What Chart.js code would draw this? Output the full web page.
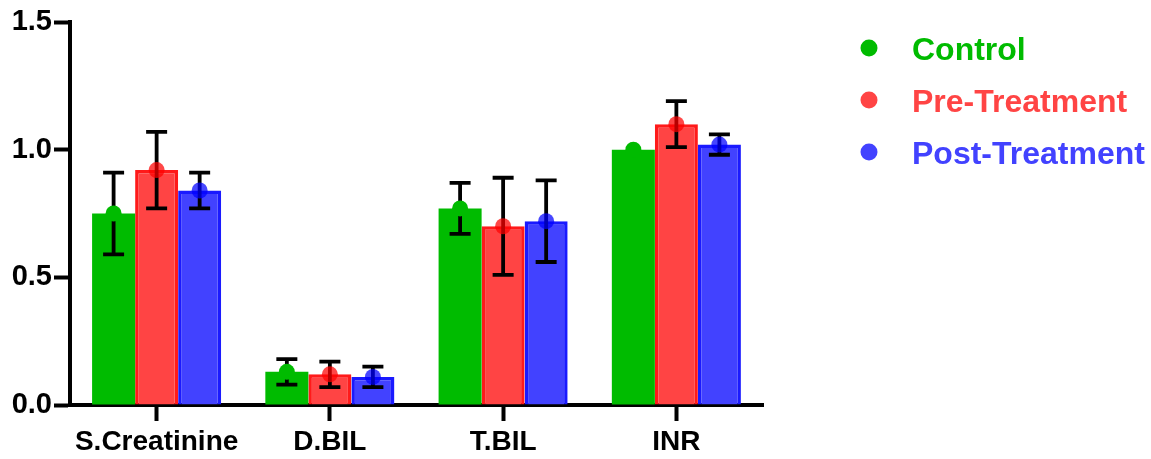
<!DOCTYPE html>
<html>
<head>
<meta charset="utf-8">
<script src="https://cdn.jsdelivr.net/npm/chart.js@4.4.1/dist/chart.umd.min.js"></script>
<style>
  html, body { margin: 0; padding: 0; background: #ffffff; }
  #wrap { position: relative; width: 1151px; height: 459px; }
</style>
</head>
<body>
<div id="wrap"><canvas id="chart" width="1151" height="459"></canvas></div>
<script>
// Liver / kidney markers per group: mean and standard deviation
const categories = ['S.Creatinine', 'D.BIL', 'T.BIL', 'INR'];
const seriesNames = ['Control', 'Pre-Treatment', 'Post-Treatment'];
const controlMean = [0.75, 0.13, 0.77, 1.00];
const controlSD   = [0.16, 0.05, 0.10, 0.00];
const preMean     = [0.92, 0.12, 0.70, 1.10];
const preSD       = [0.15, 0.05, 0.19, 0.09];
const postMean    = [0.84, 0.11, 0.72, 1.02];
const postSD      = [0.07, 0.04, 0.16, 0.04];
const yTicks      = [0.0, 0.5, 1.0, 1.5];

const FONT = '"Liberation Sans", Arial, Helvetica, sans-serif';

const groups = [
  { name: seriesNames[0], mean: controlMean, sd: controlSD,
    fill: 'rgb(0,187,0)', border: 'rgb(0,187,0)', borderWidth: 0,
    dot: 'rgb(0,187,0)', text: 'rgb(0,187,0)' },
  { name: seriesNames[1], mean: preMean, sd: preSD,
    fill: 'rgb(255,68,68)', border: 'rgb(255,26,26)', borderWidth: 3.5,
    dot: 'rgba(255,0,0,0.72)', text: 'rgb(255,68,68)' },
  { name: seriesNames[2], mean: postMean, sd: postSD,
    fill: 'rgb(66,66,255)', border: 'rgb(26,26,255)', borderWidth: 3.5,
    dot: 'rgba(0,0,255,0.72)', text: 'rgb(66,66,255)' }
];

// Error bars (mean ± SD) and mean dots on top of every bar
const errorDots = {
  id: 'errorDots',
  afterDatasetsDraw(chart) {
    const ctx = chart.ctx;
    const y = chart.scales.y;
    groups.forEach((g, i) => {
      const meta = chart.getDatasetMeta(i);
      meta.data.forEach((bar, j) => {
        const x = bar.x;
        const m = g.mean[j], s = g.sd[j];
        ctx.save();
        if (s > 0) {
          const yt = y.getPixelForValue(m + s);
          const yb = y.getPixelForValue(m - s);
          ctx.strokeStyle = '#000';
          ctx.lineWidth = 3.8;
          ctx.lineCap = 'butt';
          ctx.beginPath();
          ctx.moveTo(x, yt); ctx.lineTo(x, yb);
          ctx.moveTo(x - 10.5, yt); ctx.lineTo(x + 10.5, yt);
          ctx.moveTo(x - 10.5, yb); ctx.lineTo(x + 10.5, yb);
          ctx.stroke();
        }
        ctx.fillStyle = g.dot;
        ctx.beginPath();
        ctx.arc(x, y.getPixelForValue(m), 8, 0, Math.PI * 2);
        ctx.fill();
        ctx.restore();
      });
    });
  }
};

// Legend on the right: coloured dot + bold label
const sideLegend = {
  id: 'sideLegend',
  afterDraw(chart) {
    const ctx = chart.ctx;
    ctx.save();
    ctx.font = 'bold 32px ' + FONT;
    ctx.textBaseline = 'alphabetic';
    ctx.textAlign = 'left';
    groups.forEach((g, i) => {
      const cy = 48 + i * 52;
      ctx.fillStyle = g.text;
      ctx.beginPath();
      ctx.arc(869, cy, 8.5, 0, Math.PI * 2);
      ctx.fill();
      ctx.fillText(g.name, 912, cy + 11.5);
    });
    ctx.restore();
  }
};

new Chart(document.getElementById('chart'), {
  type: 'bar',
  data: {
    labels: categories,
    datasets: groups.map(g => ({
      label: g.name,
      data: g.mean,
      backgroundColor: g.fill,
      borderColor: g.border,
      borderWidth: g.borderWidth,
      categoryPercentage: 0.745,
      barPercentage: 1.0
    }))
  },
  options: {
    responsive: false,
    animation: false,
    events: [],
    layout: { padding: { top: 22, right: 388, left: 0, bottom: 0 } },
    plugins: { legend: { display: false }, tooltip: { enabled: false } },
    scales: {
      x: {
        offset: true,
        grid: {
          display: true, drawOnChartArea: false, drawTicks: true,
          tickLength: 16, tickWidth: 4, tickColor: '#000', offset: false
        },
        border: { display: true, width: 4, color: '#000' },
        ticks: {
          color: '#000', padding: 4,
          font: { family: FONT, size: 28, weight: 'bold' },
          maxRotation: 0, autoSkip: false
        },
        afterFit(scale) { scale.height = 54; }
      },
      y: {
        min: 0, max: 1.5,
        afterBuildTicks(scale) { scale.ticks = yTicks.map(v => ({ value: v })); },
        grid: {
          display: true, drawOnChartArea: false, drawTicks: true,
          tickLength: 16, tickWidth: 4, tickColor: '#000'
        },
        border: { display: true, width: 4, color: '#000' },
        ticks: {
          color: '#000', padding: 2,
          font: { family: FONT, size: 29, weight: 'bold' },
          callback: v => Number(v).toFixed(1)
        },
        afterFit(scale) { scale.width = 70; }
      }
    }
  },
  plugins: [errorDots, sideLegend]
});
</script>
</body>
</html>
